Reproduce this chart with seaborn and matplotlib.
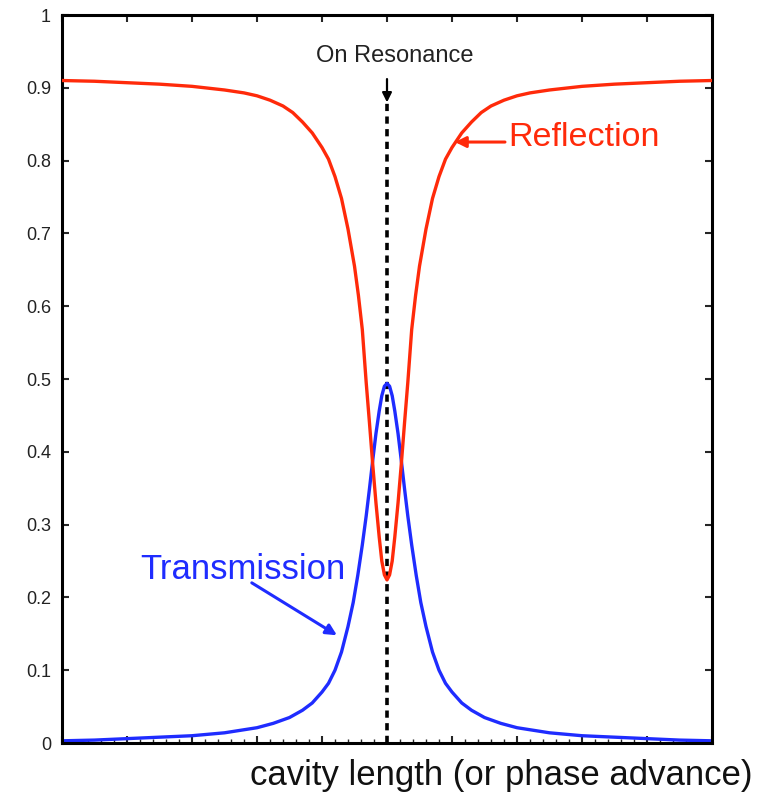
import matplotlib
matplotlib.use("Agg")
import matplotlib.pyplot as plt
from matplotlib.ticker import MultipleLocator
import seaborn as sns
import pandas as pd

# ---- data (x: detuning units, y: power fraction) ----
refl_x = [-5.0, -4.5, -4.0, -3.5, -3.0, -2.5, -2.2, -2.0, -1.8, -1.6, -1.45, -1.3,
          -1.15, -1.0, -0.9, -0.8, -0.7, -0.6, -0.5, -0.44, -0.38, -0.32, -0.27,
          -0.22, -0.17, -0.12, -0.08, -0.04, 0.0, 0.04, 0.08, 0.12, 0.17, 0.22,
          0.27, 0.32, 0.38, 0.44, 0.5, 0.6, 0.7, 0.8, 0.9, 1.0, 1.15, 1.3, 1.45,
          1.6, 1.8, 2.0, 2.2, 2.5, 3.0, 3.5, 4.0, 4.5, 5.0]
refl_y = [0.910, 0.909, 0.907, 0.905, 0.902, 0.897, 0.893, 0.889, 0.883, 0.875,
          0.866, 0.853, 0.838, 0.818, 0.802, 0.778, 0.748, 0.706, 0.655, 0.615,
          0.568, 0.495, 0.440, 0.383, 0.330, 0.283, 0.250, 0.231, 0.224, 0.231,
          0.250, 0.283, 0.330, 0.383, 0.440, 0.495, 0.568, 0.615, 0.655, 0.706,
          0.748, 0.778, 0.802, 0.818, 0.838, 0.853, 0.866, 0.875, 0.883, 0.889,
          0.893, 0.897, 0.902, 0.905, 0.907, 0.909, 0.910]

trans_x = [-5.0, -4.5, -4.0, -3.5, -3.0, -2.5, -2.0, -1.75, -1.5, -1.3, -1.15,
           -1.0, -0.9, -0.8, -0.7, -0.6, -0.52, -0.45, -0.38, -0.32, -0.27, -0.22,
           -0.17, -0.12, -0.08, -0.04, 0.0, 0.04, 0.08, 0.12, 0.17, 0.22, 0.27,
           0.32, 0.38, 0.45, 0.52, 0.6, 0.7, 0.8, 0.9, 1.0, 1.15, 1.3, 1.5, 1.75,
           2.0, 2.5, 3.0, 3.5, 4.0, 4.5, 5.0]
trans_y = [0.003, 0.004, 0.006, 0.008, 0.010, 0.014, 0.021, 0.027, 0.035, 0.045,
           0.055, 0.070, 0.082, 0.100, 0.125, 0.160, 0.193, 0.230, 0.272, 0.312,
           0.349, 0.388, 0.425, 0.456, 0.477, 0.490, 0.494, 0.490, 0.477, 0.456,
           0.425, 0.388, 0.349, 0.312, 0.272, 0.230, 0.193, 0.160, 0.125, 0.100,
           0.082, 0.070, 0.055, 0.045, 0.035, 0.027, 0.021, 0.014, 0.010, 0.008,
           0.006, 0.004, 0.003]

y_ticks = [0, 0.1, 0.2, 0.3, 0.4, 0.5, 0.6, 0.7, 0.8, 0.9, 1]
y_tick_labels = ["0", "0.1", "0.2", "0.3", "0.4", "0.5", "0.6", "0.7", "0.8", "0.9", "1"]

resonance_x = 0.0
resonance_top = 0.88

refl_df = pd.DataFrame({"x": refl_x, "y": refl_y})
trans_df = pd.DataFrame({"x": trans_x, "y": trans_y})

sns.set_style("white")
plt.rcParams["font.family"] = ["Liberation Sans", "DejaVu Sans"]

fig = plt.figure(figsize=(7.71, 7.98), dpi=100)
ax = fig.add_axes([62 / 771, 1 - 743 / 798, 650 / 771, 728 / 798])

RED = "#ff2a0a"
BLUE = "#1f2cff"

ax.axvline(resonance_x, ymin=0, ymax=resonance_top, color="black", lw=2.6,
           linestyle=(0, (2.0, 1.5)), zorder=1)
sns.lineplot(data=refl_df, x="x", y="y", ax=ax, color=RED, lw=2.4, sort=False, zorder=3)
sns.lineplot(data=trans_df, x="x", y="y", ax=ax, color=BLUE, lw=2.4, sort=False, zorder=2)

ax.set_xlim(-5, 5)
ax.set_ylim(0, 1)
ax.set_xlabel("")
ax.set_ylabel("")

ax.xaxis.set_major_locator(MultipleLocator(1))
ax.xaxis.set_minor_locator(MultipleLocator(0.2))
ax.set_yticks(y_ticks)
ax.set_yticklabels(y_tick_labels)
ax.tick_params(axis="x", which="major", direction="in", length=5, width=1.5,
               top=True, bottom=True, labelbottom=False)
ax.tick_params(axis="x", which="minor", direction="in", length=3, width=1.0,
               top=False, bottom=True)
ax.tick_params(axis="y", which="major", direction="in", length=5, width=1.5,
               left=True, right=True, labelsize=13, pad=8, labelcolor="#222222")
for s in ax.spines.values():
    s.set_color("black")
    s.set_linewidth(2.2)
    s.set_visible(True)

# annotations
ax.annotate("", xy=(resonance_x, 0.880), xytext=(resonance_x, 0.912),
            arrowprops=dict(arrowstyle="-|>", color="black", lw=1.6,
                            mutation_scale=14, shrinkA=0, shrinkB=0))
ax.text(0.12, 0.943, "On Resonance", ha="center", va="center", fontsize=17,
        color="#222222")

ax.annotate("", xy=(1.046, 0.8255), xytext=(1.815, 0.8255),
            arrowprops=dict(arrowstyle="-|>", color=RED, lw=2.2,
                            mutation_scale=16, shrinkA=0, shrinkB=0))
ax.text(1.86, 0.832, "Reflection", ha="left", va="center", fontsize=24.5, color=RED)

ax.annotate("", xy=(-0.77, 0.148), xytext=(-2.08, 0.220),
            arrowprops=dict(arrowstyle="-|>", color=BLUE, lw=2.2,
                            mutation_scale=16, shrinkA=0, shrinkB=0))
ax.text(-3.80, 0.238, "Transmission", ha="left", va="center", fontsize=25, color=BLUE)

fig.text(752 / 771, 1 - 775 / 798, "cavity length (or phase advance)", ha="right",
         va="center", fontsize=25, color="#111111")

fig.savefig("out.png", dpi=100)
